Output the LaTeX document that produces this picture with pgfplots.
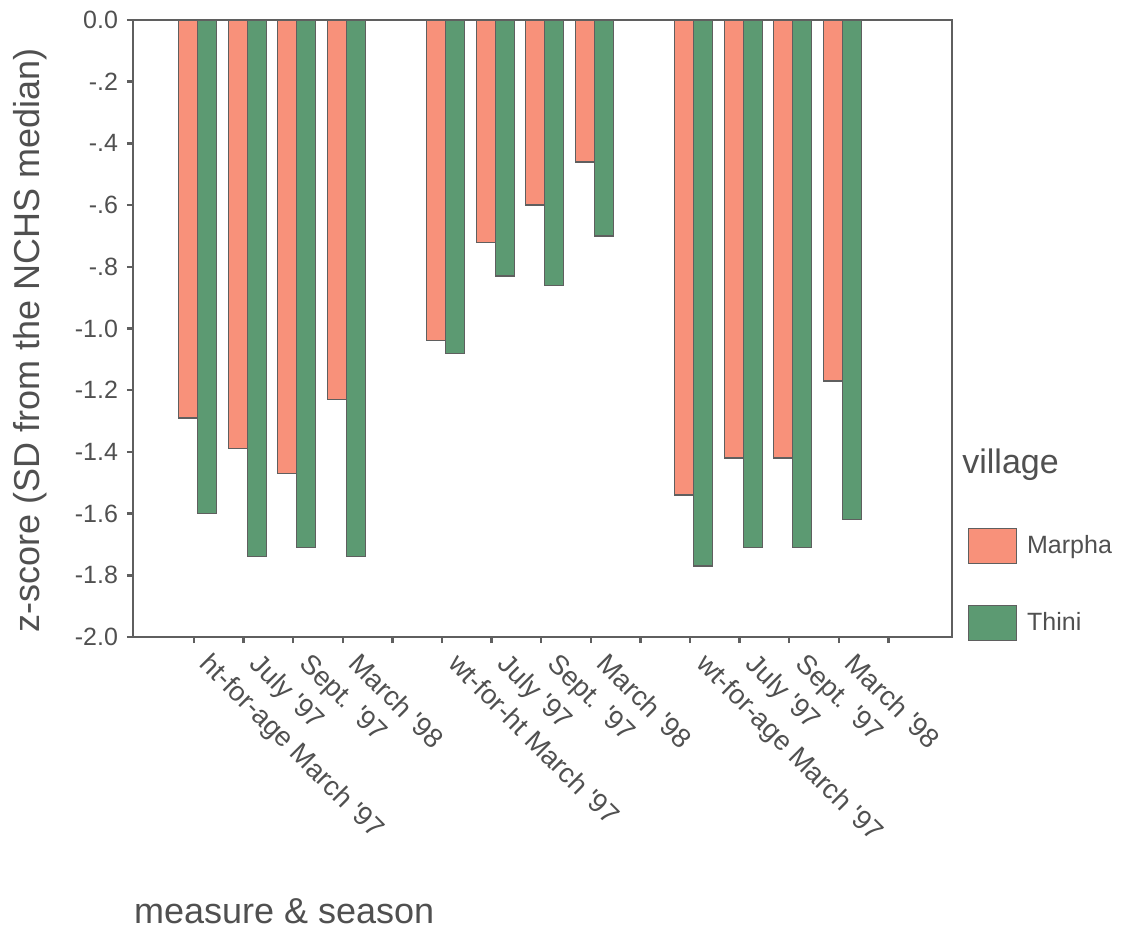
\documentclass[border=0pt]{standalone}
\usepackage{pgfplots}
\pgfplotsset{compat=1.18}
\usepackage{fontspec}
\setmainfont{Liberation Sans}
\definecolor{marpha}{RGB}{248,145,122}
\definecolor{thini}{RGB}{92,154,114}
\definecolor{txt}{RGB}{80,80,80}
\definecolor{axc}{RGB}{95,95,95}
\newcommand{\q}{\textquotesingle}
\begin{document}
\begin{tikzpicture}
\begin{axis}[
  scale only axis, width=409.5pt, height=308.5pt,
  xmin=-1.23, xmax=15.28, ymin=-2, ymax=0,
  clip=false,
  axis line style={axc, line width=0.8pt},
  ytick={0,-0.2,-0.4,-0.6,-0.8,-1.0,-1.2,-1.4,-1.6,-1.8,-2.0},
  yticklabels={0.0,-.2,-.4,-.6,-.8,-1.0,-1.2,-1.4,-1.6,-1.8,-2.0},
  xtick={0,1,2,3,4,5,6,7,8,9,10,11,12,13,14},
  xticklabels={ht-for-age March \q97, July \q97, Sept. \q97, March \q98, {},
               wt-for-ht March \q97, July \q97, Sept. \q97, March \q98, {},
               wt-for-age March \q97, July \q97, Sept. \q97, March \q98, {}},
  tick align=outside, tick pos=left, major tick length=3pt,
  tick style={axc, line width=1.2pt},
  ticklabel style={font=\fontsize{12.5}{14}\selectfont, text=txt},
  xticklabel style={font=\fontsize{13.7}{15}\selectfont, xshift=9.5pt, yshift=-4pt, rotate=-45, anchor=north west, inner sep=0pt},
  yticklabel style={xshift=-1pt},
  ylabel={z-score (SD from the NCHS median)},
  ylabel style={at={(rel axis cs:-0.125,0.481)}, anchor=center, font=\fontsize{18}{20}\selectfont, text=txt},
  xlabel={measure \& season},
  xlabel style={at={(rel axis cs:0,0)}, anchor=base west, yshift=-143pt, xshift=-3pt, font=\fontsize{18}{20}\selectfont, text=txt},
  ybar, bar width=9.5pt,
  legend style={at={(rel axis cs:1.0195,0.1767)}, anchor=north west, draw=none, fill=none,
    inner sep=0pt, outer sep=0pt, row sep=20.5pt, font=\fontsize{12.5}{14}\selectfont, text=txt,
    cells={anchor=west}, /tikz/every odd column/.append style={column sep=3pt}},
  legend image code/.code={\draw[#1, draw=axc, line width=0.6pt] (0pt,-8.75pt) rectangle (24pt,8.75pt);},
]
\addplot[fill=marpha, draw=axc, line width=0.6pt, bar shift=-3pt] coordinates {
  (0,-1.29) (1,-1.39) (2,-1.47) (3,-1.23)
  (5,-1.04) (6,-0.72) (7,-0.60) (8,-0.46)
  (10,-1.54) (11,-1.42) (12,-1.42) (13,-1.17)};
\addlegendentry{Marpha}
\addplot[fill=thini, draw=axc, line width=0.6pt, bar shift=6.5pt] coordinates {
  (0,-1.60) (1,-1.74) (2,-1.71) (3,-1.74)
  (5,-1.08) (6,-0.83) (7,-0.86) (8,-0.70)
  (10,-1.77) (11,-1.71) (12,-1.71) (13,-1.62)};
\addlegendentry{Thini}
\node[anchor=base west, font=\fontsize{17}{19}\selectfont, text=txt, inner sep=0pt] at (rel axis cs:1.0122,0.2658) {village};
\coordinate (sw) at (rel axis cs:0,0);
\end{axis}
\pgfresetboundingbox
\path (sw) ++(-66.5pt,-147.5pt) rectangle ++(566pt,466pt);
\end{tikzpicture}
\end{document}
